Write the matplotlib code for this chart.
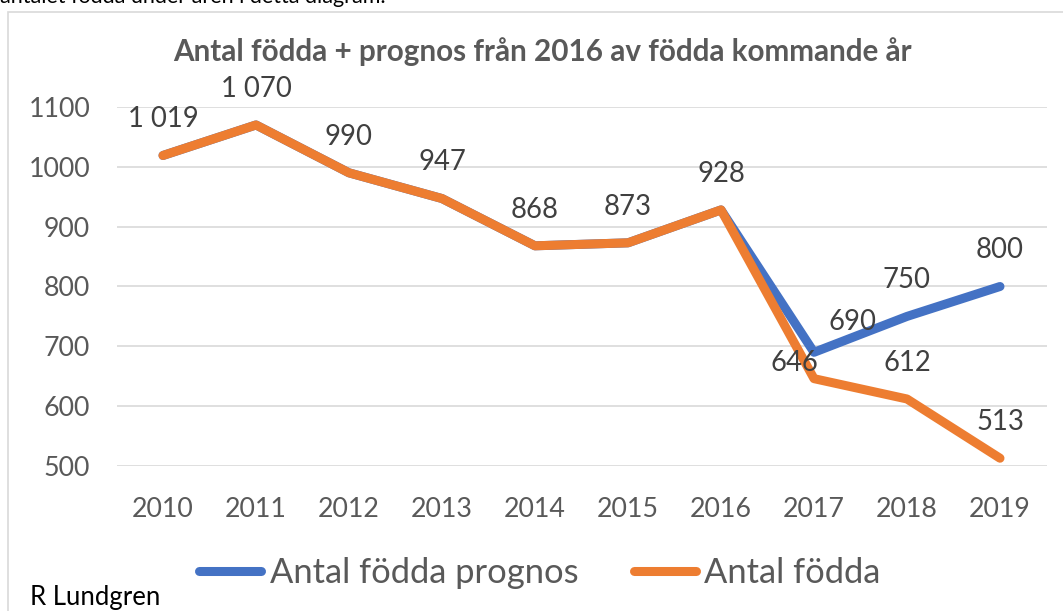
import matplotlib
matplotlib.use("Agg")
import matplotlib.pyplot as plt
from matplotlib.patches import Rectangle

# data
years = ["2010", "2011", "2012", "2013", "2014", "2015", "2016", "2017", "2018", "2019"]
prognos = [1019, 1070, 990, 947, 868, 873, 928, 690, 750, 800]
fodda = [1019, 1070, 990, 947, 868, 873, 928, 646, 612, 513]
fodda_labels = ["1 019", "1 070", "990", "947", "868", "873", "928", "646", "612", "513"]
yticks = [500, 600, 700, 800, 900, 1000, 1100]

BLUE = "#4472C4"
ORANGE = "#ED7D31"
GREY_TXT = "#595959"
LABEL_TXT = "#404040"
GRID = "#D9D9D9"

plt.rcParams["font.family"] = ["Lato", "DejaVu Sans"]

fig = plt.figure(figsize=(10.63, 6.11), dpi=100)

# chart frame
fig.patches.append(Rectangle((8 / 1063, -0.1), 1.2, 1 - 12 / 611 + 0.1,
                             transform=fig.transFigure, fill=False,
                             edgecolor=GRID, lw=1.2))

# text line above the chart, cut by the top edge as in the source screenshot
fig.text(0.0, 1 - 3 / 611, "antalet födda under åren i detta diagram.",
         fontsize=15.5, color="black", va="baseline", ha="left")

ax = fig.add_axes([116.5 / 1063, 1 - 466 / 611, 930 / 1063, 359 / 611])
x = list(range(len(years)))

ax.plot(x, prognos, color=BLUE, lw=6.5, solid_capstyle="round",
        solid_joinstyle="round", label="Antal födda prognos", zorder=3)
ax.plot(x, fodda, color=ORANGE, lw=6.5, solid_capstyle="round",
        solid_joinstyle="round", label="Antal födda", zorder=4)

# data labels
for i, (v, s) in enumerate(zip(fodda, fodda_labels)):
    off = (0, 26)
    if years[i] == "2017":
        off = (-14, 11)
    ax.annotate(s, (i, v), xytext=off, textcoords="offset points",
                ha="center", va="center", fontsize=19.8, color=LABEL_TXT,
                annotation_clip=False, zorder=5)
for i in range(7, len(years)):
    off = (28, 22) if years[i] == "2017" else (0, 26)
    ax.annotate(str(prognos[i]), (i, prognos[i]), xytext=off,
                textcoords="offset points", ha="center", va="center",
                fontsize=19.8, color=LABEL_TXT, annotation_clip=False, zorder=5)

ax.set_xlim(-0.5, len(years) - 0.5)
ax.set_ylim(500, 1100)
ax.set_yticks(yticks)
ax.set_yticklabels([str(t) for t in yticks])
ax.set_xticks(x)
ax.set_xticklabels(years)
ax.tick_params(length=0, labelsize=19.3, labelcolor=GREY_TXT)
ax.tick_params(axis="y", pad=19)
ax.tick_params(axis="x", pad=22)
ax.grid(axis="y", color=GRID, lw=1.2)
ax.set_axisbelow(True)
for sp in ax.spines.values():
    sp.set_visible(False)

fig.text(0.51, 1 - 52 / 611, "Antal födda + prognos från 2016 av födda kommande år",
         ha="center", va="center", fontsize=21.3, fontweight="bold", color=GREY_TXT)

fig.legend(loc="center", bbox_to_anchor=(540 / 1063, 1 - 573 / 611), ncol=2,
           frameon=False, fontsize=24.8, handlelength=1.8, handletextpad=0.25,
           columnspacing=1.6, labelcolor=GREY_TXT)

fig.text(30 / 1063, 1 - 598 / 611, "R Lundgren", fontsize=18.5, color="black",
         ha="left", va="center")

fig.savefig("out.png", dpi=100)
